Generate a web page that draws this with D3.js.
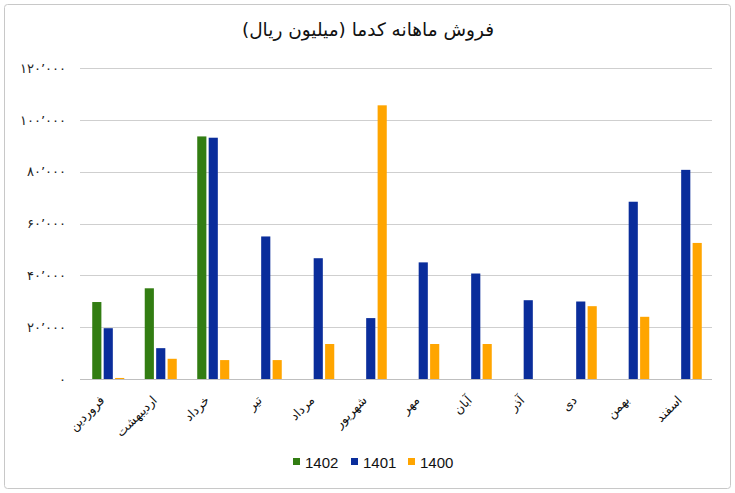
<!DOCTYPE html>
<html><head><meta charset="utf-8">
<script src="https://cdn.jsdelivr.net/npm/d3@7/dist/d3.min.js"></script>
<style>body{margin:0;background:#fff}svg{display:block}</style>
</head><body><div id="chart"></div>
<script>
const title = "فروش ماهانه کدما (میلیون ریال)";
const months = ["فروردین","اردیبهشت","خرداد","تیر","مرداد","شهریور","مهر","آبان","آذر","دی","بهمن","اسفند"];
const seriesNames = ["1402","1401","1400"];
const s1402 = [29700, 35000, 93600, null, null, null, null, null, null, null, null, null];
const s1401 = [19600, 11900, 93100, 55000, 46600, 23500, 45000, 40700, 30400, 29900, 68400, 80700];
const s1400 = [400, 7800, 7300, 7300, 13500, 105600, 13500, 13500, null, 28100, 24000, 52500];
const yTicks = [0, 20000, 40000, 60000, 80000, 100000, 120000];
const colors = ["#327d12", "#0a2d9b", "#ffa500"];

const W = 735, H = 493;
const svg = d3.select("#chart").append("svg").attr("width", W).attr("height", H);
svg.append("rect").attr("x", 4.5).attr("y", 4.5).attr("width", 726).attr("height", 484)
  .attr("rx", 3).attr("fill", "#fff").attr("stroke", "#c8c8c8");

const plot = {left: 80, right: 712, top: 68, bottom: 379};
const x0 = d3.scaleBand().domain(months).range([82, 712]).paddingInner(0.39).paddingOuter(0.195);
const x1 = d3.scaleBand().domain(seriesNames).range([0, x0.bandwidth()]).paddingInner(0.2);
const y = d3.scaleLinear().domain([0, 120000]).range([plot.bottom, plot.top]);

const fa = s => s.replace(/\d/g, d => "۰۱۲۳۴۵۶۷۸۹"[+d]);
const fmt = v => fa(d3.format(",")(v).replace(/,/g, "٬"));

// gridlines
svg.append("g").selectAll("line").data(yTicks).join("line")
  .attr("x1", plot.left).attr("x2", plot.right)
  .attr("y1", d => Math.round(y(d)) + 0.5).attr("y2", d => Math.round(y(d)) + 0.5)
  .attr("stroke", d => d === 0 ? "#bfbfbf" : "#cfcfcf").attr("stroke-width", 1);

// y axis labels
const yAxis = d3.axisLeft(y).tickValues(yTicks).tickSize(0).tickPadding(0).tickFormat(fmt);
const ya = svg.append("g").attr("transform", "translate(66,0)").call(yAxis);
ya.select(".domain").remove();
ya.selectAll("text").attr("font-family", "DejaVu Sans").attr("font-size", 13)
  .attr("letter-spacing", 0.6).attr("fill", "#222");

// bars
const all = [s1402, s1401, s1400];
const data = months.map((m, i) => ({m, vals: seriesNames.map((s, j) => ({s, j, v: all[j][i]}))}));
const g = svg.append("g").selectAll("g").data(data).join("g")
  .attr("transform", d => `translate(${x0(d.m)},0)`);
g.selectAll("rect").data(d => d.vals.filter(v => v.v != null)).join("rect")
  .attr("x", d => x1(d.s)).attr("width", x1.bandwidth())
  .attr("y", d => y(d.v)).attr("height", d => y(0) - y(d.v))
  .attr("fill", d => colors[d.j]);

// x labels
const xAxis = d3.axisBottom(x0).tickSize(0).tickPadding(0);
const xa = svg.append("g").attr("transform", `translate(0,${plot.bottom})`).call(xAxis);
xa.select(".domain").remove();
xa.selectAll("text")
  .attr("font-family", "DejaVu Sans").attr("font-size", 12.5).attr("fill", "#111")
  .attr("text-anchor", "end").attr("dy", null).attr("y", 0)
  .attr("transform", "translate(-3,22) rotate(-45)");

// title
svg.append("text").attr("x", 368).attr("y", 36).attr("text-anchor", "middle")
  .attr("font-family", "DejaVu Sans").attr("font-size", 18.5).attr("fill", "#111").text(title);

// legend
const legX = [293, 351, 408];
const lg = svg.append("g").selectAll("g").data(seriesNames).join("g")
  .attr("transform", (d, i) => `translate(${legX[i]},458)`);
lg.append("rect").attr("width", 7).attr("height", 7).attr("fill", (d, i) => colors[i]);
lg.append("text").attr("x", 12).attr("y", 10).attr("font-family", "Liberation Sans")
  .attr("font-size", 15).attr("fill", "#111").text(d => d);
</script></body></html>
